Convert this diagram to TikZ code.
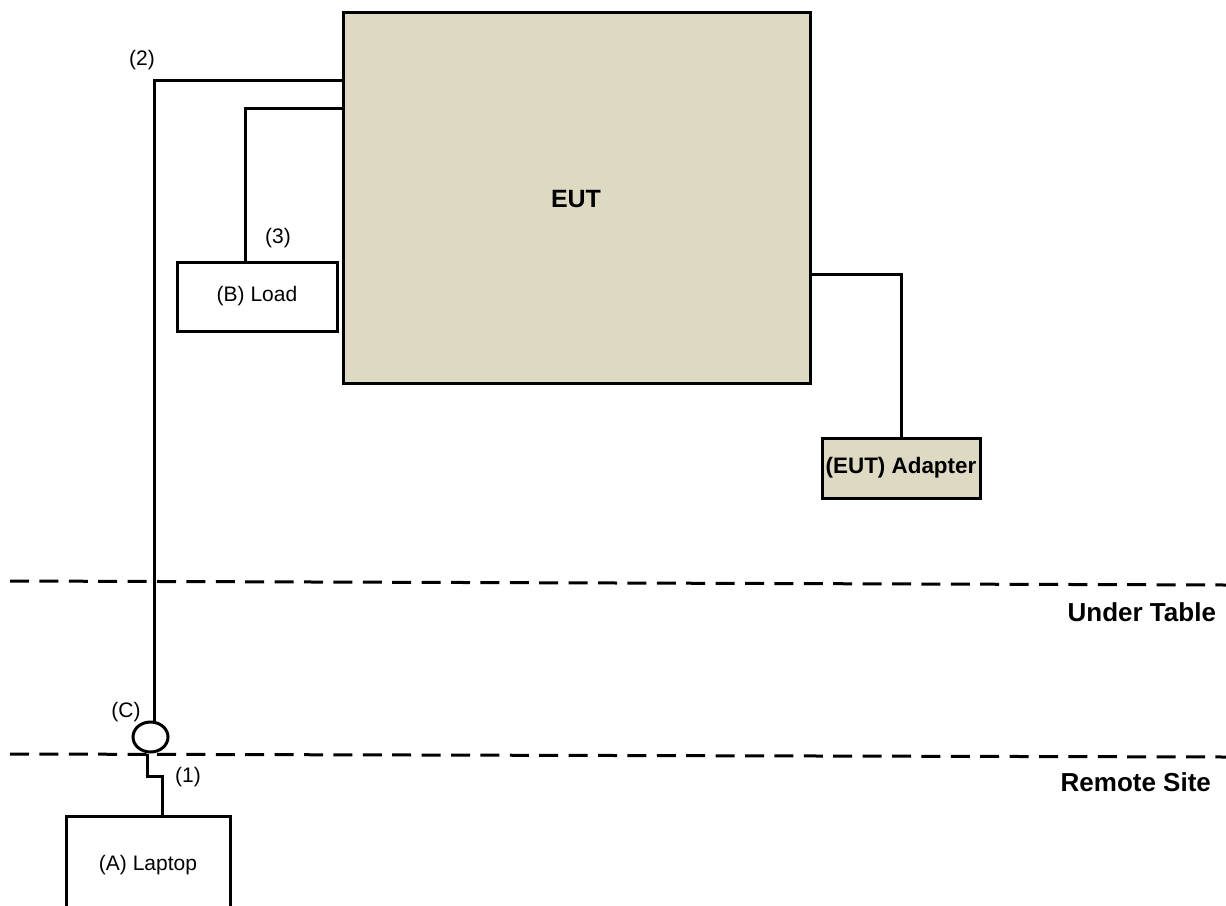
\documentclass[tikz,border=0pt]{standalone}
\usepackage{fontspec}
\setmainfont{Liberation Sans}
\usetikzlibrary{calc,positioning,shapes.geometric}
\definecolor{eutbeige}{HTML}{DDD9C3}

\begin{document}
\begin{tikzpicture}[
        x=0.5pt, y=-0.5pt,
        unit/.style = {
            draw,
            line width=1.5pt,
            inner sep=0pt,
            font=\fontsize{10.5}{12}\selectfont},
        eut unit/.style = {
            unit,
            fill=eutbeige,
            font=\fontsize{11.2}{13}\bfseries},
        cable/.style = {line width=1.5pt},
        cable label/.style = {font=\fontsize{10.5}{12}\selectfont},
        zone line/.style = {line width=1.5pt, dash pattern=on 9.5pt off 5.2pt},
        zone label/.style = {anchor=east, font=\fontsize{13}{15}\bfseries}
    ]
    \useasboundingbox (0,0) rectangle (1226,905);

    % units
    \node[eut unit, minimum width=233.5pt, minimum height=185.5pt,
        font=\fontsize{12.5}{15}\bfseries] (EUT) at (576.5,197.5) {};
    \node[font=\fontsize{12.5}{15}\bfseries] (EUTtext) at (576,199) {EUT};
    \node[unit, minimum width=80pt, minimum height=34.5pt] (Load) at (257,296.5) {(B) Load};
    \node[eut unit, minimum width=79pt, minimum height=30pt] (Adapter) at (901,468) {(EUT) Adapter};
    \node[unit, minimum width=82pt, minimum height=49pt] (Laptop) at (148,865) {(A) Laptop};
    \node[ellipse, draw, line width=1.5pt, inner sep=0pt,
        minimum width=17.5pt, minimum height=15pt] (C) at (150.5,737) {};

    % zone boundaries
    \coordinate (tableL) at (10,581);
    \coordinate (tableR) at (1226,585);
    \coordinate (remoteL) at (10,754);
    \coordinate (remoteR) at (1226,757);
    \draw[zone line] (tableL) -- (tableR);
    \draw[zone line] (remoteL) -- (remoteR);
    \node[zone label] (underTable) at (1223,612) {Under Table};
    \node[zone label] (remoteSite) at (1218,782) {Remote Site};

    % cables
    \draw[cable] ([xshift=1.75pt]C.north) |- ($(EUT.north west)+(0,70)$);
    \draw[cable] ([xshift=-6pt]Load.north) |- ($(EUT.north west)+(0,98)$);
    \draw[cable] ($(EUT.north east)+(0,264)$) -| (Adapter.north);
    \draw[cable] ([xshift=-1.75pt]C.south) -- ++(0,-11.5pt) -| ([xshift=7pt]Laptop.north);

    % cable labels
    \node[cable label] (lbl1) at (188,777) {(1)};
    \node[cable label] (lbl2) at (142,60) {(2)};
    \node[cable label] (lbl3) at (278,238) {(3)};
    \node[cable label] (lblC) at (126,712) {(C)};
\end{tikzpicture}
\end{document}
